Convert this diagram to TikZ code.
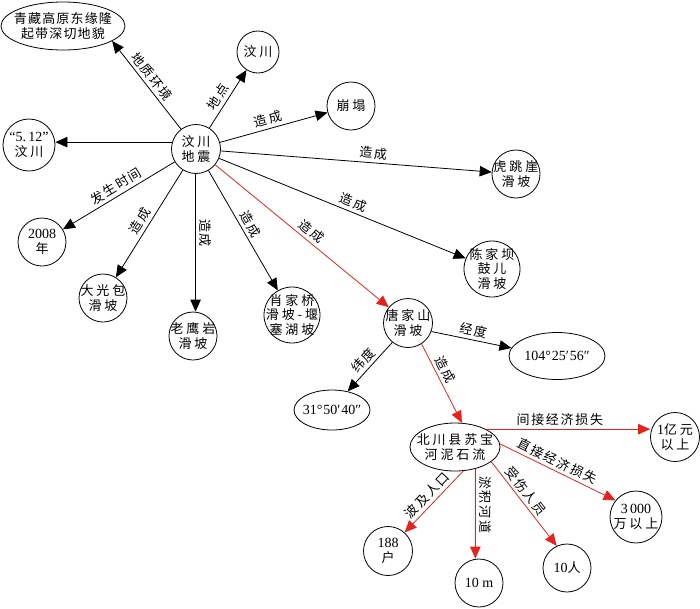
\documentclass[tikz,border=0pt]{standalone}
\usepackage{fontspec}
\setmainfont{Liberation Serif}
\newfontfamily\cjk[LetterSpace=22]{Noto Sans CJK SC}
\newfontfamily\cjkq[LetterSpace=9]{Noto Sans CJK SC}
\newfontfamily\cjkl[LetterSpace=13]{Noto Sans CJK SC}
\newcommand\lt[1]{{\rmfamily\fontsize{14}{14.5}\selectfont #1}}
\usetikzlibrary{shapes.geometric,arrows.meta}
\definecolor{ered}{RGB}{228,36,28}
\tikzset{
  base/.style={draw,line width=0.8pt,font=\cjk\fontsize{13}{14.5}\selectfont,align=center,inner sep=-10pt},
  circ/.style={base,circle,minimum size=#1},
  ell/.style 2 args={base,ellipse,minimum width=#1,minimum height=#2},
  arr/.style={line width=0.8pt,-{Triangle[length=12pt,width=10.5pt]}},
  rarr/.style={arr,color=ered},
  lab/.style={sloped,above,inner sep=3.2pt,text=black,font=\cjkl\fontsize{13}{14.5}\selectfont},
}
\begin{document}
\begin{tikzpicture}[x=1pt,y=-1pt]
\useasboundingbox (0,0) rectangle (700,608);
% nodes
\node[circ=49pt] (wd) at (196,149) {汶川\\地震};
\node[ell={124pt}{48pt},font=\cjkq\fontsize{13}{14.5}\selectfont] (qz) at (63,26) {青藏高原东缘隆\\起带深切地貌};
\node[circ=42pt] (wc) at (258,52) {汶川};
\node[circ=52pt] (wu) at (29,145) {\lt{“5.\,12”}\\汶川};
\node[circ=48pt] (bt) at (351,106) {崩塌};
\node[circ=48pt] (ht) at (516,174) {虎跳崖\\滑坡};
\node[circ=56pt] (cj) at (492,269) {陈家坝\\鼓儿\\滑坡};
\node[circ=49pt] (tj) at (408,323) {唐家山\\滑坡};
\node[ell={96pt}{47pt}] (jd) at (557,356) {\lt{104°\kern1pt25′\kern1pt56″}};
\node[ell={76pt}{40pt}] (wdu) at (332,410) {\lt{31°\kern1pt50′\kern1pt40″}};
\node[ell={90pt}{48pt}] (bc) at (455,447) {北川县苏宝\\河泥石流};
\node[circ=49pt] (yi) at (675,437) {\lt{1}亿元\\以上};
\node[circ=52pt] (sw) at (636,517) {\lt{3\,000}\\万以上};
\node[circ=49pt] (hu) at (388,551) {\lt{188}\\户};
\node[circ=48pt] (tm) at (479,583) {\lt{10 m}};
\node[circ=48pt] (ren) at (567,568) {\lt{10}人};
\node[circ=48pt] (nian) at (42,242) {\lt{2008}\\年};
\node[circ=48pt] (dg) at (103,298) {大光包\\滑坡};
\node[circ=48pt] (ly) at (193,336) {老鹰岩\\滑坡};
\node[circ=56pt] (xj) at (292,315) {肖家桥\\滑坡-堰\\塞湖坡};
% edges
\draw[arr] (wd.127) -- (qz.-17) node[lab,pos=0.53]{地质环境};
\draw[arr] (wd) -- (wc) node[lab,pos=0.45]{地点};
\draw[arr] (wd) -- (bt) node[lab,pos=0.47]{造成};
\draw[arr] (wd) -- (ht) node[lab,pos=0.56]{造成};
\draw[arr] (wd) -- (cj) node[lab,pos=0.53]{造成};
\draw[rarr] (wd) -- (tj) node[lab,pos=0.52]{造成};
\draw[arr] (wd) -- (xj) node[lab,pos=0.49]{造成};
\draw[arr] (wd.-91) -- (wd.-91 |- ly.north) node[lab,sloped=false,rotate=-90,anchor=south,pos=0.43]{造成};
\draw[arr] (wd) -- (dg) node[lab,pos=0.52]{造成};
\draw[arr] (wd) -- (nian) node[lab,pos=0.48]{发生时间};
\draw[arr] (wd.164) -- (wd.164 -| wu.east);
\draw[arr] (tj.-20) -- (jd.170) node[lab,pos=0.5]{经度};
\draw[arr] (tj.-129) -- (wdu.50) node[lab,pos=0.5]{纬度};
\draw[rarr] (tj.-57) -- (bc.74) node[lab,pos=0.38]{造成};
\draw[rarr] (bc.30) -- (bc.30 -| yi.west) node[lab,pos=0.45]{间接经济损失};
\draw[rarr] (bc.4) -- (sw.141) node[lab,pos=0.46]{直接经济损失};
\draw[rarr] (bc.-71) -- (hu.48) node[lab,pos=0.5]{波及人口};
\draw[rarr] (bc.-47) -- (bc.-47 |- tm.north) node[lab,sloped=false,rotate=-90,anchor=south,pos=0.4]{淤积河道};
\draw[rarr] (bc.-22) -- (ren.115) node[lab,pos=0.42]{受伤人员};
\end{tikzpicture}
\end{document}
